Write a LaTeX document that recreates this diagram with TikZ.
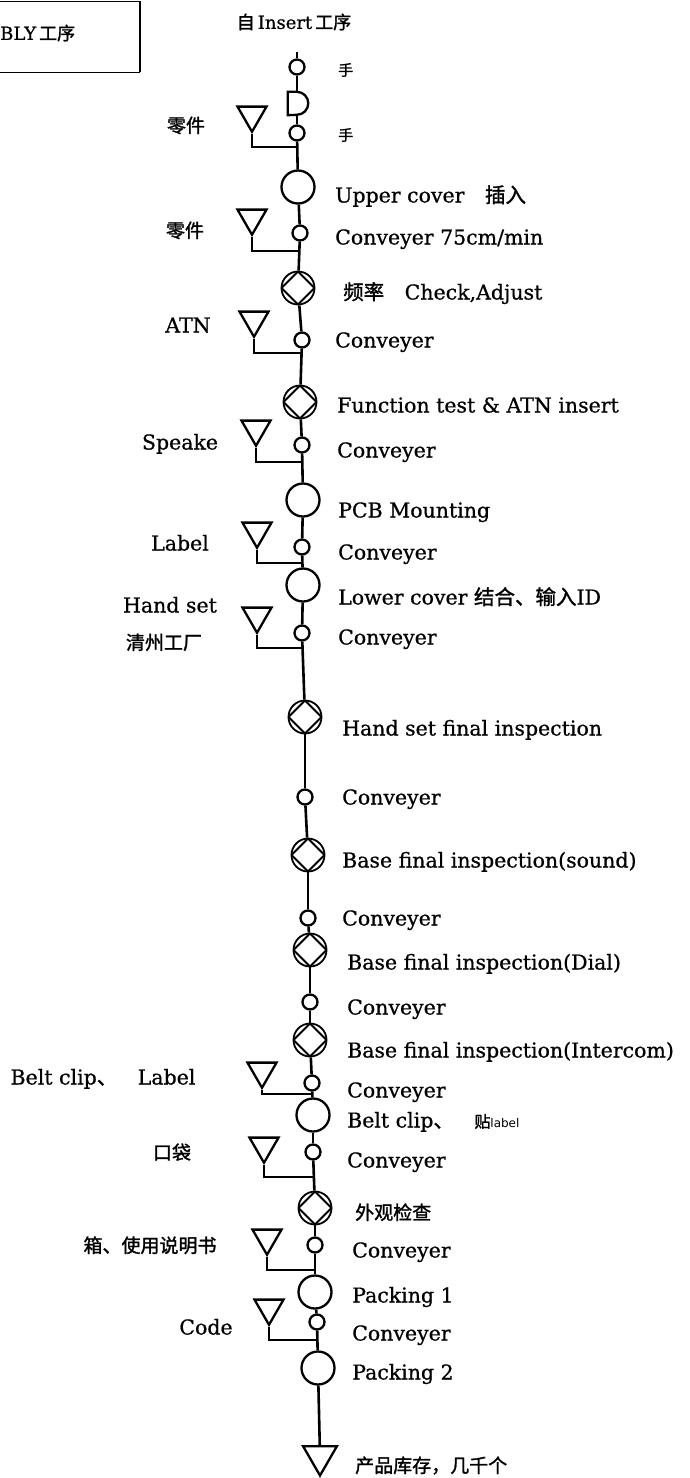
\documentclass[tikz,border=0pt]{standalone}
\usepackage{fontspec}
\setmainfont{DejaVu Serif}[FakeBold=0.7]
\newfontfamily\cjk{Noto Sans CJK SC}[FakeBold=1.4]
\newfontfamily\tinysans{DejaVu Sans}
\usetikzlibrary{shapes.geometric}
\newcommand\zh[1]{{\cjk #1}}

\tikzset{
  flow/.style={line width=2.6pt},
  conv/.style={circle, draw, line width=2.3pt, minimum size=15pt, inner sep=0pt},
  oper/.style={circle, draw, line width=2.3pt, minimum size=33pt, inner sep=0pt},
  insp/.style={circle, draw, line width=1.8pt, minimum size=33pt, inner sep=0pt,
    path picture={\draw[line width=1.8pt]
      (path picture bounding box.north) -- (path picture bounding box.east) --
      (path picture bounding box.south) -- (path picture bounding box.west) -- cycle;}},
  store/.style={regular polygon, regular polygon sides=3, shape border rotate=180,
    draw, line width=2.3pt, minimum size=33.5pt, inner sep=0pt},
  bigstore/.style={store, minimum size=39pt},
  delaybox/.style={rectangle, minimum width=20pt, minimum height=23pt, inner sep=0pt},
  txt/.style={inner sep=0pt, font=\fontsize{20.5}{24}\selectfont, text height=15pt, text depth=0pt},
  rtxt/.style={txt, anchor=west},
  ltxt/.style={txt, anchor=center},
  zhtxt/.style={inner sep=0pt, font=\cjk\fontsize{19}{22}\selectfont, text height=15pt, text depth=0pt},
}

\begin{document}
\begin{tikzpicture}[x=1pt, y=-1pt]
\useasboundingbox (0,0) rectangle (690,1478);
\fill[white] (0,0) rectangle (690,1478);

% heading box, partly cut by the page edge
\draw[line width=1pt] (-10,1) -- (140,1);
\draw[line width=1pt] (-10,72) -- (140,72);
\draw[line width=1.8pt] (140,1) -- (140,72);
\node[anchor=west, inner sep=0pt, font=\fontsize{18}{21}\selectfont] (head) at (0,33) {BLY\,\zh{工序}};

\node[inner sep=0pt, font=\fontsize{18}{21}\selectfont] (src) at (294,22) {\zh{自}\,Insert\,\zh{工序}};

% main flow symbols
\coordinate (top) at (297,52);
\node[conv] (c1) at (297,67) {};
\node[delaybox] (dl) at (298,103.5) {};
\node[conv] (c2) at (297,133) {};
\node[oper] (up) at (298,187) {};
\node[conv] (c3) at (300,233) {};
\node[insp] (f1) at (298,288) {};
\node[conv] (c4) at (302,340) {};
\node[insp] (f2) at (300,402) {};
\node[conv] (c5) at (302,445) {};
\node[oper] (pcb) at (303,500) {};
\node[conv] (c6) at (302,547) {};
\node[oper] (low) at (303,585) {};
\node[conv] (c7) at (302,633) {};
\node[insp] (f3) at (305,717) {};
\node[conv] (c8) at (305,797) {};
\node[insp] (f4) at (308,855) {};
\node[conv] (c9) at (308,918) {};
\node[insp] (f5) at (310,950) {};
\node[conv] (c10) at (310,1002) {};
\node[insp] (f6) at (310,1040) {};
\node[conv] (c11) at (312,1083) {};
\node[oper] (belt) at (313,1115) {};
\node[conv] (c12) at (313,1152) {};
\node[insp] (f7) at (315,1208) {};
\node[conv] (c13) at (315,1245) {};
\node[oper] (p1) at (315,1292) {};
\node[conv] (c14) at (317,1322) {};
\node[oper] (p2) at (318,1368) {};
\node[bigstore] (fin) at (320,1456) {};

% delay symbol
\draw[line width=2.3pt] (dl.north west) -- ++(9,0) arc (90:-90:11.5pt) -- (dl.south west) -- cycle;

% main line
\draw[flow] (top) -- (c1);
\draw[flow] (c1) -- (c1 |- dl.north);
\draw[flow] (c2 |- dl.south) -- (c2);
\foreach \a/\b in {c2/up, up/c3, c3/f1, f1/c4, c4/f2, f2/c5, c5/pcb, pcb/c6, c6/low,
  low/c7, c7/f3, f3/c8, c8/f4, f4/c9, c9/f5, f5/c10, c10/f6, f6/c11, c11/belt,
  belt/c12, c12/f7, f7/c13, c13/p1, p1/c14, c14/p2, p2/fin}
  \draw[flow] (\a) -- (\b);

% material feeds
\node[store] (t1) at (252,115) {};
\node[store] (t2) at (252,218) {};
\node[store] (t3) at (254,320) {};
\node[store] (t4) at (256,429) {};
\node[store] (t5) at (257,531) {};
\node[store] (t6) at (257,616) {};
\node[store] (t7) at (262,1071) {};
\node[store] (t8) at (264,1146) {};
\node[store] (t9) at (267,1238) {};
\node[store] (t10) at (269,1308) {};

\coordinate (j1) at (297,147);
\coordinate (j2) at (299,251);
\coordinate (j3) at (301,353);
\coordinate (j4) at (302,462);
\coordinate (j5) at (302,563);
\coordinate (j6) at (303,648);
\coordinate (j7) at (312,1094);
\coordinate (j8) at (313,1177);
\coordinate (j9) at (315,1270);
\coordinate (j10) at (317,1340);

\foreach \t/\j in {t1/j1, t2/j2, t3/j3, t4/j4, t5/j5, t6/j6, t7/j7, t8/j8, t9/j9, t10/j10}
  \draw[line width=2.3pt] (\t.south) |- (\j);

% step texts
\node[anchor=west, inner sep=0pt, font=\cjk\fontsize{15}{17}\selectfont] (h1) at (338,70) {手};
\node[anchor=west, inner sep=0pt, font=\cjk\fontsize{15}{17}\selectfont] (h2) at (338,135) {手};
\node[rtxt] (l1) at (335,195) {Upper cover\quad\zh{插入}};
\node[rtxt] (l2) at (335,237) {Conveyer 75cm/min};
\node[rtxt] (l3) at (343,292) {\zh{频率}\quad Check,Adjust};
\node[rtxt] (l4) at (335,340) {Conveyer};
\node[rtxt] (l5) at (337,405) {Function test \& ATN insert};
\node[rtxt] (l6) at (337,450) {Conveyer};
\node[rtxt] (l7) at (338,510) {PCB Mounting};
\node[rtxt] (l8) at (338,552) {Conveyer};
\node[rtxt] (l9) at (338,597) {Lower cover \zh{结合、输入}ID};
\node[rtxt] (l10) at (338,637) {Conveyer};
\node[rtxt] (l11) at (342,728) {Hand set final inspection};
\node[rtxt] (l12) at (342,797) {Conveyer};
\node[rtxt] (l13) at (342,860) {Base final inspection(sound)};
\node[rtxt] (l14) at (342,918) {Conveyer};
\node[rtxt] (l15) at (347,962) {Base final inspection(Dial)};
\node[rtxt] (l16) at (347,1007) {Conveyer};
\node[rtxt] (l17) at (347,1050) {Base final inspection(Intercom)};
\node[rtxt] (l18) at (347,1090) {Conveyer};
\node[rtxt] (l19) at (347,1120) {Belt clip\zh{、}\quad{\cjk\fontsize{16}{18}\selectfont 贴}{\tinysans\fontsize{12}{14}\selectfont label}};
\node[rtxt] (l20) at (347,1160) {Conveyer};
\node[zhtxt, anchor=west] (l21) at (355,1212) {外观检查};
\node[rtxt] (l22) at (352,1250) {Conveyer};
\node[rtxt] (l23) at (352,1295) {Packing 1};
\node[rtxt] (l24) at (352,1333) {Conveyer};
\node[rtxt] (l25) at (352,1372) {Packing 2};
\node[zhtxt, anchor=west] (l26) at (355,1465) {产品库存，几千个};

% feed texts
\node[zhtxt] (m1) at (186,125) {零件};
\node[zhtxt] (m2) at (185,230) {零件};
\node[ltxt] (m3) at (188,325) {ATN};
\node[ltxt] (m4) at (180,442) {Speake};
\node[ltxt] (m5) at (180,543) {Label};
\node[ltxt] (m6) at (170,605) {Hand set};
\node[zhtxt] (m7) at (164,642) {清州工厂};
\node[ltxt] (m8) at (103,1077) {Belt clip\zh{、}\quad Label};
\node[zhtxt] (m9) at (172,1152) {口袋};
\node[zhtxt] (m10) at (150,1245) {箱、使用说明书};
\node[ltxt] (m11) at (206,1327) {Code};
\end{tikzpicture}
\end{document}
